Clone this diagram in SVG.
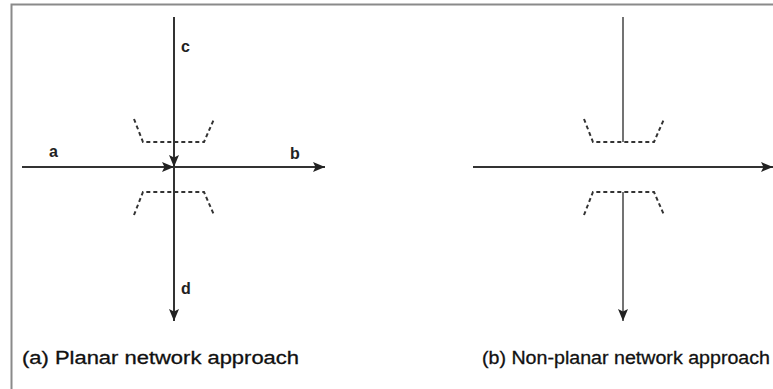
<svg xmlns="http://www.w3.org/2000/svg" width="773" height="389" viewBox="0 0 773 389">
<style>
.frame{stroke:#8a8a8a;stroke-width:2;fill:none}
.ln{stroke:#333;stroke-width:2;fill:none}
.ln1{stroke:#444;stroke-width:1.5;fill:none}
.dash{stroke:#333;stroke-width:2;fill:none;stroke-dasharray:4,3}
.lbl{font-family:"Liberation Sans",Arial,sans-serif;font-size:16px;font-weight:bold;fill:#222}
.cap{font-family:"Liberation Sans",Arial,sans-serif;font-size:18px;fill:#111;stroke:#111;stroke-width:0.3}
</style>
<defs>
<marker id="ahs" viewBox="0 0 12 10" refX="12" refY="5" markerWidth="12" markerHeight="10" markerUnits="userSpaceOnUse" orient="auto">
<path d="M0,0 L12,5 L0,10 L2.5,5 z" fill="#222"/>
</marker>
</defs>
<rect width="773" height="389" fill="#fff"/>
<path class="frame" d="M11.5,389 V4.5 H773"/>
<g id="connectors">
<line class="ln" x1="22" y1="167" x2="174" y2="167" marker-end="url(#ahs)"/>
<line class="ln" x1="174" y1="167" x2="325" y2="167" marker-end="url(#ahs)"/>
<line class="ln" x1="174" y1="17" x2="174" y2="167" marker-end="url(#ahs)"/>
<line class="ln" x1="174" y1="167" x2="174" y2="321" marker-end="url(#ahs)"/>
<line class="ln" x1="473" y1="167" x2="773" y2="167" marker-end="url(#ahs)"/>
<line class="ln1" x1="623" y1="17" x2="623" y2="142"/>
<line class="ln1" x1="623" y1="192" x2="623" y2="321" marker-end="url(#ahs)"/>
</g>
<g id="planar">
<path class="dash" d="M134,119 L143,142 H204 L214,119"/>
<path class="dash" d="M134,215 L143,192 H204 L214,215"/>
<text class="lbl" x="181" y="52">c</text>
<text class="lbl" x="49" y="157">a</text>
<text class="lbl" x="290" y="159">b</text>
<text class="lbl" x="181" y="294">d</text>
<text class="cap" x="22" y="364" textLength="277" lengthAdjust="spacingAndGlyphs">(a) Planar network approach</text>
</g>
<g id="nonplanar">
<path class="dash" d="M584,119 L593,142 H654 L664,119"/>
<path class="dash" d="M584,215 L593,192 H654 L664,215"/>
<text class="cap" x="482" y="364" textLength="288" lengthAdjust="spacingAndGlyphs">(b) Non-planar network approach</text>
</g>
</svg>
